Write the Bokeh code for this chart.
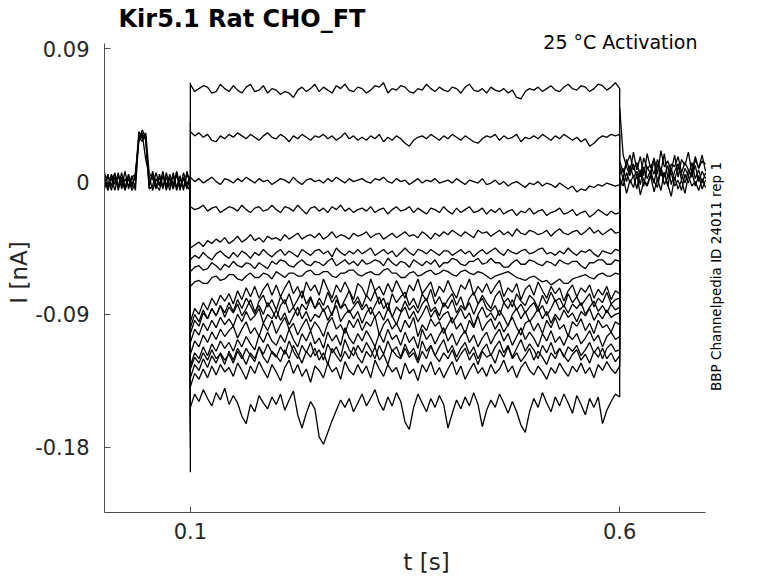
import numpy as np
from math import pi
from bokeh.plotting import figure
from bokeh.models import Range1d, FixedTicker, Label
from bokeh.embed import file_html
from bokeh.resources import INLINE

# ---------------- texts ----------------
TITLE = "Kir5.1  Rat  CHO_FT"
CONDITION = "25 °C  Activation"
SOURCE_NOTE = "BBP Channelpedia ID 24011 rep 1"
X_LABEL = "t [s]"
Y_LABEL = "I [nA]"
X_TICKS = [0.1, 0.6]
X_TICK_LABELS = ["0.1", "0.6"]
Y_TICKS = [-0.18, -0.09, 0.0, 0.09]
Y_TICK_LABELS = ["-0.18", "-0.09", "0", "0.09"]

# axis extents of the original plot (s, nA)
X_LIMITS = (0.0, 0.7)
Y_LIMITS = (-0.22425, 0.09339)

# ---------------- sampling times (s) ----------------
STEP_START = 0.1
STEP_END = 0.6
T_STEP = [round(0.1 + 0.005 * k, 3) for k in range(101)]  # during the voltage step
T_PRE = [round(0.004 * k, 3) for k in range(26)]          # before the step
T_POST = [round(0.6 + 0.004 * k, 3) for k in range(26)]   # after the step
BASELINE_PA = 0

# ---------------- currents (pA) ----------------
# capacitive peak at step onset, one per sweep (top to bottom)
ONSET_PA = [67, 40, -6, -30, -60, -70, -80, -95, -120, -130, -125, -140,
            -150, -160, -165, -170, -180, -197]

S01 = [66, 61, 63, 65, 64, 60, 61, 66, 63, 61,
       65, 62, 60, 64, 66, 61, 62, 65, 60, 63,
       62, 59, 61, 60, 57, 62, 64, 61, 63, 66,
       61, 64, 62, 60, 65, 63, 66, 62, 61, 64,
       63, 60, 62, 65, 64, 67, 60, 63, 62, 65,
       64, 61, 60, 63, 62, 66, 63, 61, 64, 62,
       61, 64, 63, 60, 64, 66, 62, 61, 63, 60,
       64, 62, 61, 63, 60, 62, 57, 56, 61, 63,
       62, 64, 61, 63, 65, 62, 61, 64, 66, 63,
       62, 65, 64, 61, 63, 66, 65, 62, 64, 67, 63]
S02 = [34, 31, 33, 30, 32, 28, 27, 31, 29, 32,
       30, 33, 31, 29, 32, 30, 28, 31, 33, 30,
       29, 32, 30, 27, 31, 29, 32, 30, 28, 31,
       30, 32, 29, 31, 28, 30, 33, 29, 31, 28,
       30, 28, 31, 29, 32, 27, 30, 28, 31, 29,
       26, 24, 28, 30, 31, 29, 32, 30, 28, 31,
       29, 32, 30, 28, 31, 29, 27, 26, 29, 31,
       30, 32, 28, 31, 29, 30, 32, 27, 30, 29,
       31, 29, 32, 30, 28, 31, 29, 32, 30, 28,
       30, 27, 29, 24, 26, 29, 31, 30, 32, 31, 32]
S03 = [3, 0, 2, -1, 1, 3, 0, -2, 2, 1,
       -1, 2, 0, 3, 1, -1, 2, 0, 1, -2,
       0, 2, 1, -1, 3, 0, -2, 1, 2, 0,
       1, -1, 2, 0, 3, 1, -1, 2, 0, 1,
       2, 0, -1, 2, 1, 3, 0, -1, 2, 0,
       1, -2, 0, 2, -1, 1, 0, 2, -1, 0,
       1, -1, 2, 0, -2, 1, 0, -1, 2, -2,
       -1, 1, -2, 0, -3, -1, 0, -2, -4, -1,
       -2, 0, -3, -1, -2, -4, -1, -3, -5, -3,
       -7, -5, -6, -3, -4, -2, -3, -1, -2, -3, -2]
S04 = [-17, -19, -18, -16, -20, -18, -17, -21, -19, -17,
       -18, -20, -16, -19, -21, -18, -17, -20, -19, -16,
       -19, -21, -17, -18, -20, -16, -19, -22, -18, -17,
       -20, -18, -21, -17, -19, -16, -20, -18, -21, -19,
       -18, -20, -17, -21, -19, -18, -22, -19, -17, -20,
       -19, -17, -21, -18, -20, -22, -18, -19, -21, -17,
       -20, -22, -18, -21, -19, -17, -21, -20, -18, -22,
       -19, -21, -18, -22, -20, -19, -23, -20, -21, -18,
       -22, -20, -19, -23, -21, -20, -18, -22, -21, -19,
       -23, -21, -20, -24, -22, -19, -21, -23, -20, -22, -21]
S05 = [-45, -43, -41, -44, -40, -42, -39, -41, -38, -42,
       -40, -37, -41, -39, -36, -40, -38, -41, -37, -39,
       -38, -40, -36, -39, -37, -35, -39, -37, -36, -38,
       -35, -39, -37, -34, -38, -36, -37, -39, -35, -37,
       -36, -34, -38, -36, -35, -39, -37, -35, -38, -36,
       -34, -37, -36, -38, -34, -36, -39, -35, -37, -34,
       -36, -33, -35, -37, -34, -36, -38, -33, -35, -34,
       -37, -35, -33, -36, -34, -37, -32, -35, -36, -33,
       -34, -36, -35, -33, -37, -34, -32, -35, -36, -34,
       -33, -36, -34, -31, -35, -33, -36, -34, -32, -35, -34]
S06 = [-53, -50, -52, -48, -51, -53, -49, -47, -50, -52,
       -48, -51, -47, -49, -52, -48, -50, -46, -49, -51,
       -48, -46, -50, -47, -49, -51, -46, -48, -50, -47,
       -46, -49, -47, -51, -45, -48, -50, -47, -49, -46,
       -49, -47, -45, -50, -48, -46, -49, -47, -51, -48,
       -45, -48, -50, -46, -47, -49, -46, -48, -50, -47,
       -47, -50, -48, -46, -49, -47, -51, -48, -46, -49,
       -47, -45, -48, -50, -46, -48, -49, -47, -46, -49,
       -48, -46, -45, -49, -48, -50, -47, -49, -45, -48,
       -50, -47, -48, -46, -49, -51, -47, -48, -49, -46, -47]
S07 = [-61, -58, -57, -60, -59, -55, -57, -60, -56, -58,
       -54, -57, -58, -55, -56, -59, -55, -57, -59, -54,
       -56, -53, -54, -57, -58, -55, -53, -56, -57, -54,
       -55, -57, -54, -52, -57, -55, -53, -56, -54, -57,
       -53, -56, -55, -53, -54, -57, -52, -55, -57, -54,
       -55, -58, -53, -55, -57, -54, -56, -53, -58, -55,
       -55, -52, -53, -56, -57, -54, -54, -52, -56, -55,
       -52, -55, -55, -58, -58, -55, -53, -56, -56, -53,
       -54, -56, -57, -54, -55, -57, -53, -55, -56, -54,
       -54, -57, -59, -55, -55, -53, -53, -56, -56, -53, -54]
S08 = [-71, -68, -67, -69, -69, -65, -64, -67, -66, -63,
       -63, -66, -67, -64, -62, -65, -65, -62, -63, -66,
       -61, -63, -65, -62, -62, -64, -64, -61, -60, -63,
       -63, -61, -61, -64, -65, -62, -62, -60, -60, -63,
       -64, -62, -61, -63, -63, -60, -59, -62, -62, -65,
       -65, -62, -61, -64, -63, -61, -60, -63, -62, -60,
       -61, -63, -64, -61, -60, -62, -63, -61, -62, -64,
       -66, -64, -63, -62, -61, -63, -65, -66, -67, -65,
       -64, -66, -68, -67, -70, -68, -66, -69, -69, -66,
       -65, -64, -63, -65, -66, -63, -62, -64, -64, -62, -63]
S09 = [-95, -86, -90, -82, -87, -79, -84, -77, -81, -76,
       -83, -74, -80, -72, -78, -71, -79, -73, -69, -77,
       -70, -78, -72, -67, -76, -71, -79, -68, -74, -70,
       -77, -66, -73, -79, -70, -75, -68, -74, -80, -69,
       -72, -78, -66, -74, -71, -77, -69, -75, -67, -73,
       -79, -70, -74, -66, -76, -72, -68, -78, -71, -75,
       -67, -74, -79, -70, -73, -66, -77, -71, -75, -69,
       -76, -71, -67, -78, -72, -75, -69, -80, -73, -70,
       -77, -68, -74, -79, -71, -76, -72, -81, -74, -70,
       -78, -72, -75, -70, -79, -73, -77, -71, -80, -74, -76]
S10 = [-103, -94, -98, -89, -93, -86, -91, -84, -89, -82,
       -88, -80, -86, -79, -84, -90, -81, -77, -85, -80,
       -87, -78, -83, -76, -85, -80, -74, -83, -78, -86,
       -79, -84, -75, -82, -77, -86, -80, -74, -83, -78,
       -85, -77, -81, -74, -83, -79, -87, -76, -82, -78,
       -75, -84, -79, -86, -76, -81, -73, -83, -78, -85,
       -80, -76, -84, -78, -87, -79, -75, -83, -77, -82,
       -86, -78, -74, -82, -79, -85, -76, -81, -84, -77,
       -80, -86, -77, -83, -75, -81, -79, -85, -76, -82,
       -78, -84, -80, -76, -85, -79, -82, -75, -83, -80, -79]
S11 = [-99, -90, -95, -87, -93, -86, -91, -84, -92, -85,
       -89, -83, -91, -86, -80, -88, -84, -90, -82, -87,
       -93, -84, -80, -89, -85, -91, -83, -87, -79, -86,
       -82, -88, -84, -91, -80, -86, -83, -89, -85, -81,
       -87, -83, -90, -84, -78, -86, -82, -92, -85, -88,
       -81, -87, -84, -89, -83, -79, -88, -85, -91, -82,
       -86, -80, -89, -84, -87, -82, -90, -83, -79, -86,
       -88, -84, -91, -82, -86, -80, -87, -83, -89, -85,
       -82, -88, -84, -91, -86, -80, -87, -84, -89, -83,
       -86, -82, -90, -85, -81, -88, -84, -89, -83, -87, -85]
S12 = [-109, -100, -104, -96, -101, -94, -99, -92, -97, -93,
       -98, -90, -95, -88, -94, -91, -86, -96, -90, -93,
       -87, -94, -89, -97, -91, -85, -93, -88, -95, -90,
       -92, -86, -94, -89, -84, -95, -90, -87, -93, -88,
       -96, -89, -85, -92, -88, -94, -86, -91, -97, -89,
       -85, -93, -88, -95, -90, -84, -92, -87, -94, -90,
       -88, -96, -91, -86, -93, -89, -98, -90, -85, -92,
       -89, -94, -87, -92, -98, -90, -86, -93, -88, -95,
       -91, -86, -93, -88, -96, -90, -94, -87, -92, -89,
       -95, -88, -91, -86, -94, -89, -93, -87, -92, -90, -89]
S13 = [-117, -108, -112, -104, -109, -102, -107, -100, -105, -101,
       -98, -106, -100, -95, -103, -99, -105, -96, -101, -94,
       -103, -97, -92, -100, -96, -104, -98, -93, -101, -95,
       -99, -105, -96, -92, -100, -97, -103, -94, -99, -93,
       -101, -95, -98, -91, -104, -97, -93, -100, -96, -102,
       -94, -99, -92, -105, -97, -101, -93, -98, -95, -103,
       -97, -92, -100, -96, -103, -94, -99, -91, -101, -96,
       -93, -100, -95, -102, -97, -92, -99, -104, -96, -94,
       -101, -96, -103, -94, -99, -92, -100, -97, -105, -95,
       -98, -93, -101, -96, -103, -94, -99, -97, -102, -95, -97]
S14 = [-125, -116, -120, -112, -118, -110, -115, -108, -113, -109,
       -115, -107, -112, -105, -110, -114, -104, -109, -102, -108,
       -111, -104, -109, -100, -107, -112, -103, -108, -101, -110,
       -106, -113, -102, -108, -104, -111, -99, -106, -110, -103,
       -108, -101, -106, -112, -103, -109, -100, -107, -104, -111,
       -102, -109, -105, -113, -100, -107, -103, -110, -104, -99,
       -108, -103, -111, -105, -101, -109, -104, -112, -106, -102,
       -110, -104, -100, -108, -103, -111, -105, -99, -107, -102,
       -106, -112, -103, -108, -101, -109, -105, -111, -104, -107,
       -103, -110, -106, -101, -108, -104, -112, -105, -102, -107, -105]
S15 = [-127, -119, -123, -116, -121, -114, -120, -117, -124, -115,
       -121, -113, -118, -124, -116, -120, -112, -119, -123, -115,
       -118, -122, -114, -120, -111, -117, -123, -115, -119, -113,
       -121, -116, -124, -113, -118, -122, -115, -120, -112, -119,
       -123, -115, -119, -112, -121, -117, -124, -114, -118, -120,
       -113, -119, -116, -123, -115, -120, -111, -118, -122, -116,
       -120, -114, -122, -117, -113, -121, -116, -124, -115, -119,
       -117, -123, -114, -119, -112, -120, -116, -122, -118, -113,
       -121, -115, -119, -124, -116, -120, -113, -118, -122, -117,
       -114, -121, -117, -123, -115, -119, -113, -120, -116, -122, -118]
S16 = [-133, -124, -128, -120, -126, -118, -123, -116, -121, -117,
       -123, -115, -120, -113, -118, -122, -112, -117, -110, -116,
       -119, -112, -117, -108, -115, -120, -111, -116, -109, -118,
       -114, -121, -110, -116, -112, -119, -107, -114, -118, -111,
       -116, -109, -114, -120, -111, -117, -108, -115, -112, -119,
       -110, -117, -113, -121, -108, -115, -111, -118, -112, -107,
       -116, -111, -119, -113, -109, -117, -112, -120, -114, -110,
       -118, -112, -108, -116, -111, -119, -113, -107, -115, -110,
       -114, -120, -111, -116, -109, -117, -113, -119, -112, -115,
       -111, -118, -114, -109, -116, -112, -120, -113, -110, -115, -114]
S17 = [-139, -130, -134, -127, -133, -125, -131, -124, -129, -126,
       -132, -123, -128, -134, -125, -130, -122, -128, -133, -124,
       -129, -135, -126, -121, -130, -124, -132, -127, -136, -125,
       -128, -133, -123, -129, -126, -134, -122, -128, -131, -124,
       -130, -125, -133, -121, -127, -132, -124, -129, -126, -134,
       -123, -130, -127, -135, -124, -129, -122, -131, -126, -133,
       -127, -122, -131, -125, -134, -128, -123, -130, -126, -132,
       -124, -130, -127, -121, -129, -125, -133, -126, -122, -128,
       -131, -125, -129, -134, -126, -130, -123, -128, -132, -125,
       -129, -123, -130, -126, -133, -124, -128, -122, -127, -130, -125]
S18 = [-153, -144, -149, -141, -147, -152, -143, -148, -140, -151,
       -145, -150, -159, -164, -151, -156, -145, -150, -154, -146,
       -151, -144, -155, -148, -142, -158, -167, -157, -149, -154,
       -173, -178, -170, -162, -155, -148, -153, -147, -156, -150,
       -144, -152, -147, -141, -150, -155, -146, -152, -143, -149,
       -163, -168, -153, -144, -150, -156, -147, -153, -145, -151,
       -167, -157, -148, -154, -146, -152, -143, -151, -166, -155,
       -148, -153, -144, -150, -157, -149, -156, -165, -170, -156,
       -147, -153, -143, -150, -156, -146, -152, -144, -150, -157,
       -145, -151, -158, -147, -153, -146, -164, -155, -149, -144, -146]

# holding current before the step, with the short test pulse (pA)
P1 = [3, -4, 5, -2, 6, -5, 2, -3, 4, -6, 30, 33, 28,
      -2, 5, -4, 3, -5, 6, -3, 4, -6, 2, -4, 5, 0]
P2 = [-5, 4, -3, 6, -6, 3, -4, 5, -2, 3, 34, 29, 31,
      -5, -3, 6, -2, 4, -6, 3, -5, 7, -3, 2, -5, 3]
P3 = [6, -2, 3, -6, 4, -3, 7, -5, 3, 5, 27, 32, 15,
      4, -6, 2, -3, 7, -4, 5, -2, 6, -5, 3, -3, -6]
P4 = [-2, 5, -6, 3, -3, 6, -5, 2, -6, -1, 31, 27, 33,
      6, 2, -5, 5, -3, 3, -6, 6, -4, 4, -6, 7, -2]
P5 = [1, -6, 2, 5, -4, 1, -6, 4, -4, 6, 29, 35, 30,
      -4, 7, -2, -6, 4, -2, 2, -5, 5, -6, 6, -2, 4]

# current after the step (pA)
Q1 = [50, 18, 10, 4, 12, 2, 8, -3, 10, 5, 14, 0, 9, 3, 11, -2, 7, 12, 1, 9,
      4, 13, 2, 8, -1, 6]
Q2 = [10, 2, 15, 6, 20, 8, 17, 4, 19, 9, 16, 5, 21, 10, 14, 7, 18, 3, 15, 11,
      20, 6, 17, 9, 14, 12]
Q3 = [-5, 3, -8, 1, -4, 5, -9, 0, -3, 4, -7, 2, -6, 6, -2, -10, 3, -5, 1, -8,
      4, -3, 0, -6, 2, -4]
Q4 = [5, 9, 0, 11, 3, 7, -2, 10, 2, 8, -1, 12, 4, 6, -3, 9, 1, 10, 5, -1,
      8, 3, 11, 0, 7, 2]
Q5 = [2, -3, 6, -1, 4, -5, 7, 1, -2, 5, 0, -4, 8, -2, 3, 6, -3, 1, -6, 5,
      -1, 7, -3, 4, -5, 1]
Q6 = [14, 6, 12, 18, 8, 13, 3, 16, 9, 11, 5, 15, 7, 19, 2, 12, 10, 17, 6, 13,
      8, 4, 15, 9, 18, 7]

STEP_TRACES = [S01, S02, S03, S04, S05, S06, S07, S08, S09, S10, S11, S12,
               S13, S14, S15, S16, S17, S18]
PRE_TRACES = [P1, P2, P3, P4, P5]
POST_TRACES = [Q1, Q2, Q3, Q4, Q5, Q6]

for s in STEP_TRACES:
    assert len(s) == len(T_STEP), len(s)
for s in PRE_TRACES:
    assert len(s) == len(T_PRE), len(s)
for s in POST_TRACES:
    assert len(s) == len(T_POST), len(s)

FONT = "DejaVu Sans"
INK = "#262626"
AXIS = "#4d4d4d"

# the frame reaches a little beyond the axes (top and right) so that the
# condition text and the vertical note can sit there; axis lines are bounded.
p = figure(width=778, height=583, output_backend="svg", toolbar_location=None,
           x_range=Range1d(0.0, 0.75), y_range=Range1d(-0.22425, 0.10104),
           min_border_left=104, min_border_right=30, min_border_top=32,
           min_border_bottom=71, background_fill_color="white",
           border_fill_color="white")
p.outline_line_color = None
p.grid.visible = False

nA = lambda arr: [v / 1000.0 for v in arr]
LW = 1.3

for vals in PRE_TRACES:
    p.line(T_PRE, nA(vals), line_color="black", line_width=LW)
for vals in POST_TRACES:
    p.line(T_POST, nA(vals), line_color="black", line_width=LW)
for onset, vals in zip(ONSET_PA, STEP_TRACES):
    xs = [STEP_START, STEP_START] + T_STEP + [STEP_END]
    ys = [BASELINE_PA, onset] + vals + [BASELINE_PA]
    p.line(xs, nA(ys), line_color="black", line_width=LW)

# axes
for ax in (p.xaxis[0], p.yaxis[0]):
    ax.axis_line_color = AXIS
    ax.axis_line_width = 1
    ax.major_tick_line_color = AXIS
    ax.major_tick_in = 6
    ax.major_tick_out = 0
    ax.minor_tick_line_color = None
    ax.major_label_text_font = FONT
    ax.major_label_text_font_size = "21px"
    ax.major_label_text_color = INK
    ax.axis_label_text_font = FONT
    ax.axis_label_text_font_size = "23px"
    ax.axis_label_text_font_style = "normal"
    ax.axis_label_text_color = INK

p.xaxis.bounds = X_LIMITS
p.xaxis.ticker = FixedTicker(ticks=X_TICKS)
p.xaxis.major_label_overrides = dict(zip(X_TICKS, X_TICK_LABELS))
p.xaxis.major_label_standoff = 10
p.xaxis.axis_label = X_LABEL
p.xaxis.axis_label_standoff = 7

p.yaxis.bounds = Y_LIMITS
p.yaxis.ticker = FixedTicker(ticks=Y_TICKS)
p.yaxis.major_label_overrides = dict(zip(Y_TICKS, Y_TICK_LABELS))
p.yaxis.major_label_standoff = 15
p.yaxis.axis_label = Y_LABEL
p.yaxis.axis_label_standoff = 0

# title
p.title.text = TITLE
p.title.text_font = FONT
p.title.text_font_size = "24px"
p.title.text_font_style = "bold"
p.title.text_color = "black"
p.title.align = "left"
p.title.offset = 14
p.title.standoff = 0

# annotations inside the (extended) frame
p.add_layout(Label(x=0.6976, y=0.09494, text=CONDITION,
                   text_align="right", text_baseline="middle",
                   text_font=FONT, text_font_size="19px", text_color="black"))
p.add_layout(Label(x=0.7127, y=-0.0643, text=SOURCE_NOTE, angle=pi / 2,
                   text_align="center", text_baseline="middle",
                   text_font=FONT, text_font_size="13.5px", text_color="black"))

open("out.html", "w").write(file_html(p, INLINE))
